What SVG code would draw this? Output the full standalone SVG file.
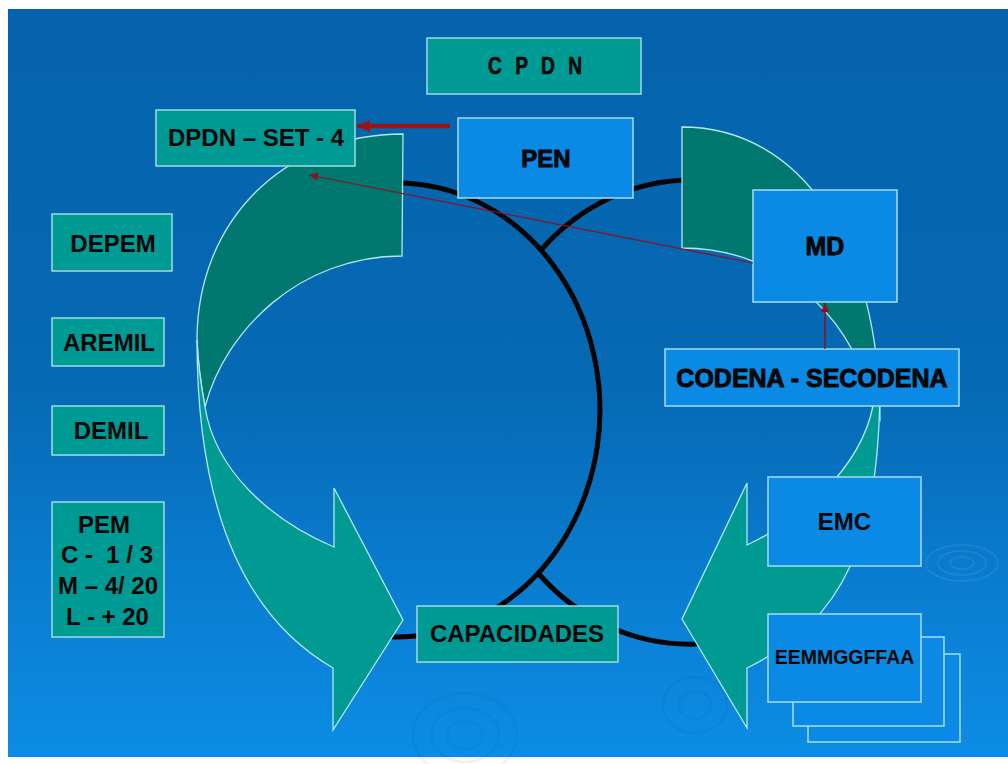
<svg xmlns="http://www.w3.org/2000/svg" width="1008" height="764" viewBox="0 0 1008 764">
<defs>
  <linearGradient id="bg" x1="0" y1="0" x2="0" y2="1">
    <stop offset="0" stop-color="#0563AC"/>
    <stop offset="0.5" stop-color="#0669B4"/>
    <stop offset="0.8" stop-color="#0A7FD3"/>
    <stop offset="1" stop-color="#0B8DE4"/>
  </linearGradient>
  <marker id="ahThick" markerUnits="userSpaceOnUse" markerWidth="14" markerHeight="14" refX="13" refY="7" orient="auto">
    <path d="M0,1 L13,7 L0,13 Z" fill="#9A1414"/>
  </marker>
  <marker id="ahThin" markerUnits="userSpaceOnUse" markerWidth="10" markerHeight="10" refX="9" refY="5" orient="auto">
    <path d="M0,1 L9,5 L0,9 Z" fill="#8E1020"/>
  </marker>
</defs>
<style>
  .teal{fill:#009A94;stroke:#A2DAE2;stroke-width:1.5}
  .blue{fill:#0A8AE4;stroke:#A8DCF0;stroke-width:1.5}
  .lbl{font-family:"Liberation Sans",Arial,sans-serif;font-weight:bold;fill:#060606;text-anchor:middle;font-size:24px}
  .heavy{stroke:#060606;stroke-width:0.9}
  .back{fill:#00786F;stroke:#B4E6EE;stroke-width:1.3}
  .front{fill:#009A92;stroke:#B4E6EE;stroke-width:1.3}
  .ring{fill:none;stroke:#050505;stroke-width:5}
  .rip{fill:none;stroke:#02427F;stroke-opacity:0.07;stroke-width:2.5}
  .ripl{fill:none;stroke:#FFFFFF;stroke-opacity:0.07;stroke-width:2}
</style>

<rect x="0" y="0" width="1008" height="764" fill="#FFFFFF"/>
<rect x="8" y="9" width="1000" height="748" fill="url(#bg)"/>

<g id="ripples">
  <ellipse class="ripl" cx="962" cy="563" rx="12" ry="6"/>
  <ellipse class="ripl" cx="962" cy="563" rx="24" ry="12"/>
  <ellipse class="ripl" cx="962" cy="563" rx="36" ry="18"/>
  <ellipse class="rip" cx="465" cy="735" rx="18" ry="14"/>
  <ellipse class="rip" cx="465" cy="735" rx="34" ry="27"/>
  <ellipse class="rip" cx="465" cy="735" rx="52" ry="42"/>
  <ellipse class="rip" cx="695" cy="705" rx="16" ry="14"/>
  <ellipse class="rip" cx="695" cy="705" rx="32" ry="28"/>
</g>

<g id="cycle-rings">
  <path class="ring" d="M397,183 A203,227 0 1 1 330,624.3"/>
  <path class="ring" d="M541,250 A210,232 0 0 1 692,180"/>
  <path class="ring" d="M538,573 A210,232 0 0 0 697,644"/>
</g>

<g id="left-curved-arrow">
  <path class="back" d="M403,134 C285,134 197,220 197,340 C198,365 201,385 205,407 C225,330 300,256 402,256 Z"/>
  <path class="front" d="M197,340 C197,520 250,620 333,668 L333,730 L403,620 L334,488 L334,547 C270,520 215,470 205,407 C201,385 198,365 197,340 Z"/>
</g>

<g id="right-curved-arrow">
  <path class="back" d="M682,127 C801,127 880,245 880,420 L873,410 C860,330 790,248 682,248 Z"/>
  <path class="front" d="M880,380 C880,540 845,620 747,668 L747,728 L682,619 L747,483 L747,545 C800,520 860,470 873,406 C876,395 879,388 880,380 Z"/>
</g>

<g id="node-cpdn">
  <rect class="teal" x="427" y="38" width="214" height="56"/>
  <text class="lbl" transform="translate(537,74) scale(0.8,1)" x="0" y="0" letter-spacing="5" style="stroke:#060606;stroke-width:0.6">C P D N</text>
</g>
<g id="node-dpdn">
  <rect class="teal" x="156" y="110" width="199" height="56"/>
  <text class="lbl" x="256" y="146">DPDN – SET - 4</text>
</g>
<g id="node-pen">
  <rect class="blue" x="458" y="118" width="175" height="80"/>
  <text class="lbl heavy" x="546" y="167" font-size="23">PEN</text>
</g>
<g id="node-md">
  <rect class="blue" x="753" y="190" width="144" height="112"/>
  <text class="lbl heavy" x="825" y="255" style="font-size:25px">MD</text>
</g>
<g id="node-codena">
  <rect class="blue" x="665" y="349" width="294" height="57"/>
  <text class="lbl heavy" x="812" y="387" style="font-size:25px">CODENA - SECODENA</text>
</g>
<g id="node-emc">
  <rect class="blue" x="768" y="477" width="153" height="89"/>
  <text class="lbl" x="844.5" y="530">EMC</text>
</g>
<g id="node-eemmggffaa">
  <rect class="blue" x="808" y="654" width="152" height="88"/>
  <rect class="blue" x="793" y="637" width="151" height="89"/>
  <rect class="blue" x="768" y="614" width="153" height="88"/>
  <text class="lbl" x="844.5" y="664" style="font-size:19.5px">EEMMGGFFAA</text>
</g>
<g id="node-depem">
  <rect class="teal" x="52" y="214" width="120" height="57"/>
  <text class="lbl" x="113" y="252">DEPEM</text>
</g>
<g id="node-aremil">
  <rect class="teal" x="52" y="318" width="112" height="48"/>
  <text class="lbl" x="109" y="351">AREMIL</text>
</g>
<g id="node-demil">
  <rect class="teal" x="52" y="406" width="112" height="49"/>
  <text class="lbl" x="111" y="439">DEMIL</text>
</g>
<g id="node-pem">
  <rect class="teal" x="52" y="502" width="112" height="135"/>
  <text class="lbl" x="104" y="533">PEM</text>
  <text class="lbl" x="107" y="563" xml:space="preserve">C -  1 / 3</text>
  <text class="lbl" x="108" y="594">M – 4/ 20</text>
  <text class="lbl" x="107.5" y="625">L - + 20</text>
</g>
<g id="node-capacidades">
  <rect class="teal" x="417" y="606" width="201" height="56"/>
  <text class="lbl" x="517" y="642">CAPACIDADES</text>
</g>

<g id="connectors">
  <line x1="450" y1="126" x2="357" y2="126" stroke="#9A1414" stroke-width="4.5" marker-end="url(#ahThick)"/>
  <line x1="753" y1="263" x2="309" y2="175" stroke="#8E1020" stroke-width="1.2" marker-end="url(#ahThin)"/>
  <line x1="825" y1="349" x2="825" y2="303" stroke="#8E1020" stroke-width="1.5" marker-end="url(#ahThin)"/>
</g>
</svg>
